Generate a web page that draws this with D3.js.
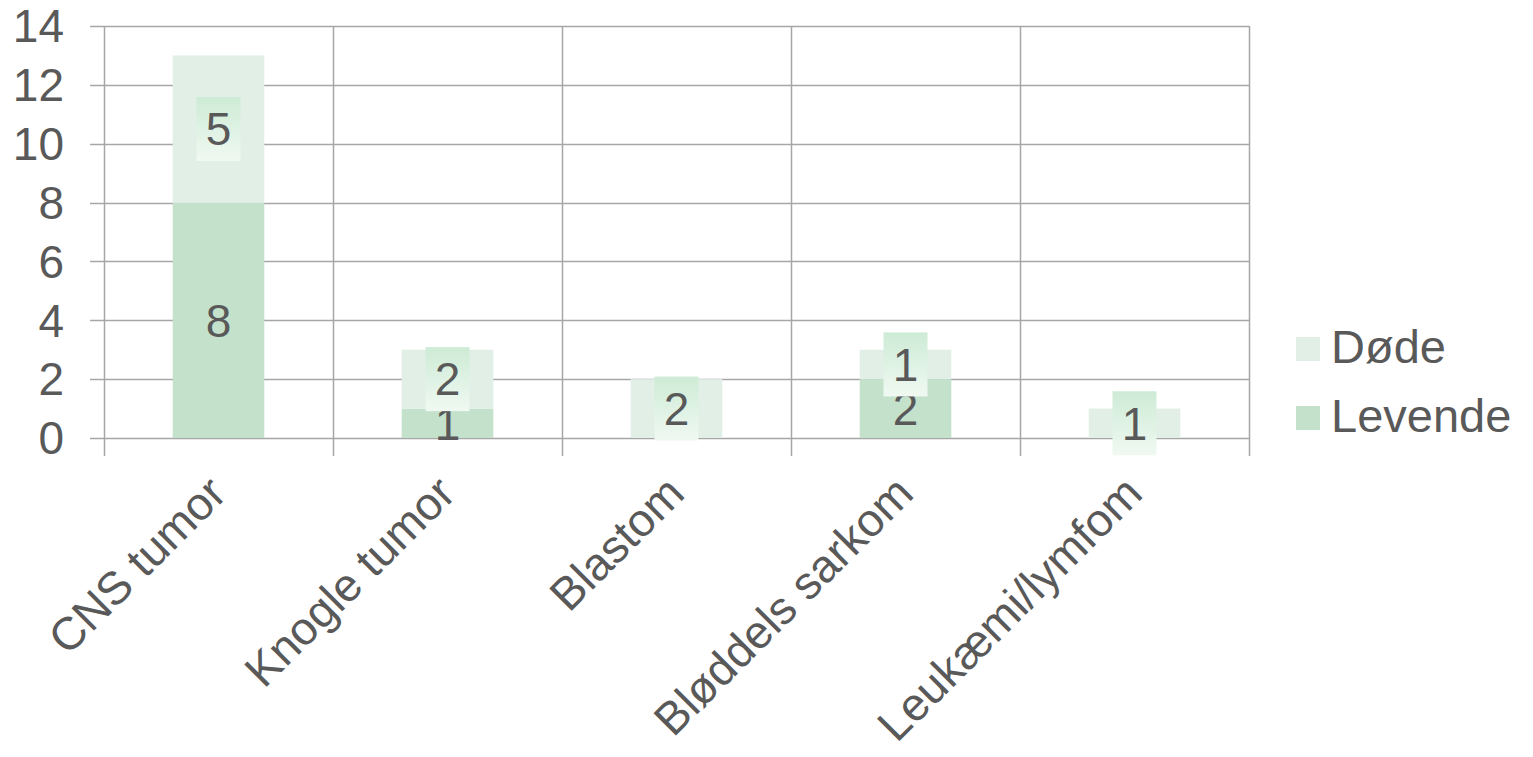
<!DOCTYPE html>
<html>
<head>
<meta charset="utf-8">
<script src="https://cdn.jsdelivr.net/npm/d3@7"></script>
<style>
  html, body { margin: 0; padding: 0; background: #ffffff; }
  svg { display: block; }
  text { font-family: "Liberation Sans", Arial, sans-serif; fill: #595959; }
</style>
</head>
<body>
<svg id="chart" width="1533" height="757"></svg>
<script>
const categories = ["CNS tumor", "Knogle tumor", "Blastom", "Bløddels sarkom", "Leukæmi/lymfom"];
const levende = [8, 1, 0, 2, 0];
const dode = [5, 2, 2, 1, 1];
const seriesNames = ["Levende", "Døde"];
const yTicks = [0, 2, 4, 6, 8, 10, 12, 14];

const colors = { "Levende": "#c3e1cb", "Døde": "#e1efe6" };
const gridColor = "#a6a6a6";
const fontSize = 46;

const svg = d3.select("#chart");
const margin = { left: 104, right: 1249, top: 26, bottom: 438 };

const x = d3.scaleBand().domain(categories).range([margin.left, margin.right]).paddingInner(0).paddingOuter(0);
const y = d3.scaleLinear().domain([0, 14]).range([margin.bottom, margin.top]);

const defs = svg.append("defs");
const grad = defs.append("linearGradient").attr("id", "lblGrad").attr("x1", 0).attr("y1", 0).attr("x2", 0).attr("y2", 1);
grad.append("stop").attr("offset", "0%").attr("stop-color", "#cdebd5");
grad.append("stop").attr("offset", "100%").attr("stop-color", "#f0f9f2");

// horizontal gridlines + left ticks
svg.append("g").selectAll("line").data(yTicks).join("line")
  .attr("x1", margin.left - 14).attr("x2", margin.right)
  .attr("y1", d => Math.round(y(d)) + 0.5).attr("y2", d => Math.round(y(d)) + 0.5)
  .attr("stroke", gridColor).attr("stroke-width", 1.5);

// vertical gridlines at category boundaries
const bounds = categories.map(c => x(c)).concat([margin.right]);
svg.append("g").selectAll("line").data(bounds).join("line")
  .attr("x1", d => Math.round(d) + 0.5).attr("x2", d => Math.round(d) + 0.5)
  .attr("y1", margin.top).attr("y2", margin.bottom + 18)
  .attr("stroke", gridColor).attr("stroke-width", 1.5);

// y labels
svg.append("g").selectAll("text").data(yTicks).join("text")
  .attr("x", 64).attr("y", d => y(d))
  .attr("dy", "0.355em")
  .attr("text-anchor", "end")
  .attr("font-size", fontSize)
  .text(d => d);

// stacked data
const rows = categories.map((c, i) => ({ cat: c, "Levende": levende[i], "Døde": dode[i] }));
const stack = d3.stack().keys(seriesNames)(rows);

const bw = x.bandwidth() * 0.4;
const barX = c => x(c) + (x.bandwidth() - bw) / 2;

const layers = svg.append("g").selectAll("g").data(stack).join("g")
  .attr("fill", d => colors[d.key]);
layers.selectAll("rect").data(d => d).join("rect")
  .attr("x", d => barX(d.data.cat))
  .attr("width", bw)
  .attr("y", d => y(d[1]))
  .attr("height", d => y(d[0]) - y(d[1]));

// data labels
const lblG = svg.append("g");
stack.forEach(layer => {
  layer.forEach(d => {
    const v = d[1] - d[0];
    if (v <= 0) return;
    const cx = x(d.data.cat) + x.bandwidth() / 2;
    const cy = (y(d[0]) + y(d[1])) / 2;
    if (layer.key === "Døde") {
      lblG.append("rect")
        .attr("x", cx - 22).attr("y", cy - 32)
        .attr("width", 44).attr("height", 64)
        .attr("fill", "url(#lblGrad)");
    }
    lblG.append("text")
      .attr("x", cx).attr("y", cy)
      .attr("dy", "0.355em")
      .attr("text-anchor", "middle")
      .attr("font-size", fontSize)
      .text(v);
  });
});

// category labels
svg.append("g").selectAll("text").data(categories).join("text")
  .attr("transform", c => `translate(${x(c) + x.bandwidth() / 2 + 10},${496}) rotate(-45)`)
  .attr("text-anchor", "end")
  .attr("font-size", fontSize)
  .text(c => c);

// legend (Døde on top)
const legendItems = ["Døde", "Levende"];
const lg = svg.append("g").selectAll("g").data(legendItems).join("g")
  .attr("transform", (d, i) => `translate(1296,${337 + i * 69})`);
lg.append("rect").attr("width", 24).attr("height", 24).attr("fill", d => colors[d]);
lg.append("text").attr("x", 35).attr("y", 26).attr("font-size", 47).text(d => d);
</script>
</body>
</html>
